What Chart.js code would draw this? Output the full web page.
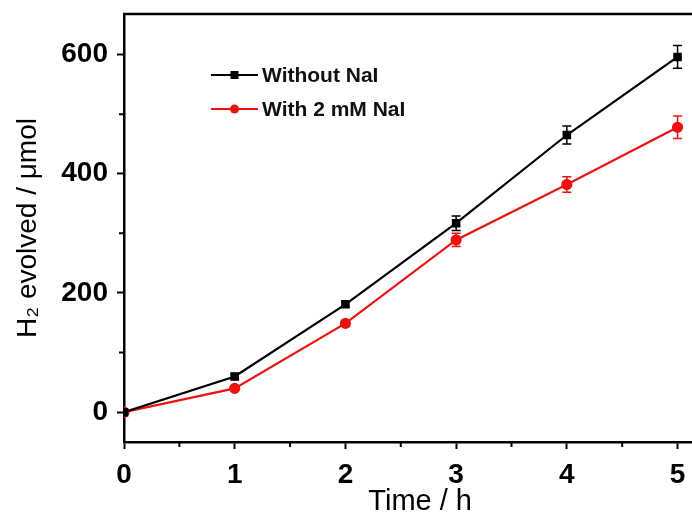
<!DOCTYPE html>
<html>
<head>
<meta charset="utf-8">
<script src="https://cdn.jsdelivr.net/npm/chart.js@4.4.1/dist/chart.umd.min.js"></script>
<style>
  html, body { margin: 0; padding: 0; background: #fff; overflow: hidden; }
  #wrap { width: 723px; height: 517px; }
</style>
</head>
<body>
<div id="wrap"><canvas id="c" width="723" height="517"></canvas></div>
<script>
// data
const hours = [0, 1, 2, 3, 4, 5];
const withoutNaI = [0, 60, 181, 317, 465, 596];
const withoutNaIErr = [0, 5, 5, 12, 15, 19];
const withNaI = [0, 40, 149, 289, 382, 478];
const withNaIErr = [0, 4, 5, 11, 13, 19];
const xTicks = [0, 1, 2, 3, 4, 5];
const xMinor = [0.5, 1.5, 2.5, 3.5, 4.5];
const yTicks = [0, 200, 400, 600];
const yMinor = [100, 300, 500];
const seriesNames = ['Without NaI', 'With 2 mM NaI'];
const seriesColors = ['#000000', '#ee1111'];

const FONT = "'Liberation Sans', Arial, sans-serif";

// error bars + minor ticks + top frame + legend
const extras = {
  id: 'extras',
  afterDatasetsDraw(chart) {
    const ctx = chart.ctx, xs = chart.scales.x, ys = chart.scales.y, a = chart.chartArea;
    const errs = [withoutNaIErr, withNaIErr];
    chart.data.datasets.forEach((ds, di) => {
      ctx.save();
      ctx.strokeStyle = seriesColors[di];
      ctx.lineWidth = 1.5;
      ds.data.forEach((p, i) => {
        const e = errs[di][i];
        if (!e) return;
        const px = xs.getPixelForValue(p.x);
        const top = ys.getPixelForValue(p.y + e), bot = ys.getPixelForValue(p.y - e);
        ctx.beginPath();
        ctx.moveTo(px, top); ctx.lineTo(px, bot);
        ctx.moveTo(px - 4.5, top); ctx.lineTo(px + 4.5, top);
        ctx.moveTo(px - 4.5, bot); ctx.lineTo(px + 4.5, bot);
        ctx.stroke();
      });
      ctx.restore();
    });

    ctx.save();
    ctx.strokeStyle = '#000';
    ctx.lineWidth = 2;
    ctx.beginPath();
    xMinor.forEach(v => {
      const px = xs.getPixelForValue(v);
      ctx.moveTo(px, a.bottom); ctx.lineTo(px, a.bottom + 5);
    });
    yMinor.forEach(v => {
      const py = ys.getPixelForValue(v);
      ctx.moveTo(a.left, py); ctx.lineTo(a.left - 5, py);
    });
    ctx.stroke();
    ctx.lineWidth = 2.5;
    ctx.beginPath();
    ctx.moveTo(a.left - 1, a.top); ctx.lineTo(a.right, a.top);
    ctx.stroke();

    // legend
    const rows = [75, 109];
    ctx.font = 'bold 21px ' + FONT;
    ctx.textBaseline = 'middle';
    rows.forEach((y, i) => {
      ctx.strokeStyle = seriesColors[i];
      ctx.fillStyle = seriesColors[i];
      ctx.lineWidth = 2.2;
      ctx.beginPath(); ctx.moveTo(211, y); ctx.lineTo(258, y); ctx.stroke();
      ctx.beginPath();
      if (i === 0) ctx.rect(230.5, y - 4, 8, 8);
      else ctx.arc(234.5, y, 4.5, 0, Math.PI * 2);
      ctx.fill();
      ctx.fillStyle = '#111';
      ctx.fillText(seriesNames[i], 262, y + 1);
    });
    ctx.restore();
  }
};

new Chart(document.getElementById('c'), {
  type: 'line',
  data: {
    datasets: [
      {
        label: seriesNames[0],
        data: hours.map((h, i) => ({ x: h, y: withoutNaI[i] })),
        borderColor: seriesColors[0], backgroundColor: seriesColors[0],
        borderWidth: 2.2, pointStyle: 'rect', pointRadius: 4.5, tension: 0
      },
      {
        label: seriesNames[1],
        data: hours.map((h, i) => ({ x: h, y: withNaI[i] })),
        borderColor: seriesColors[1], backgroundColor: seriesColors[1],
        borderWidth: 2.2, pointStyle: 'circle', pointRadius: 4.5, tension: 0
      }
    ]
  },
  options: {
    responsive: false,
    animation: false,
    layout: { padding: { top: 14, left: 0, right: 0, bottom: 0 } },
    plugins: { legend: { display: false }, tooltip: { enabled: false } },
    scales: {
      x: {
        type: 'linear', min: 0, max: 5.35,
        afterBuildTicks: s => { s.ticks = xTicks.map(v => ({ value: v })); },
        afterFit: s => { s.height = 75; s.paddingLeft = 0; s.paddingRight = 0; },
        border: { display: true, color: '#000', width: 2.5 },
        grid: { drawOnChartArea: false, drawTicks: true, tickLength: 7, tickColor: '#000', tickWidth: 2 },
        ticks: { color: '#000', padding: 9, font: { family: FONT, size: 28, weight: 'bold' }, maxRotation: 0 },
        title: { display: true, text: 'Time / h', color: '#000', padding: { top: 0, bottom: 1 },
                 font: { family: FONT, size: 29, lineHeight: 1 } }
      },
      y: {
        type: 'linear', min: -50, max: 668,
        afterBuildTicks: s => { s.ticks = yTicks.map(v => ({ value: v })); },
        afterFit: s => { s.width = 124; s.paddingTop = 0; s.paddingBottom = 0; },
        border: { display: true, color: '#000', width: 2.5 },
        grid: { drawOnChartArea: false, drawTicks: true, tickLength: 7, tickColor: '#000', tickWidth: 2 },
        ticks: { color: '#000', padding: 9, font: { family: FONT, size: 28, weight: 'bold' } },
        title: { display: true, text: 'H\u2082 evolved / \u03bcmol', color: '#000', padding: { top: 11, bottom: 0 },
                 font: { family: FONT, size: 28 } }
      }
    }
  },
  plugins: [extras]
});
</script>
</body>
</html>
